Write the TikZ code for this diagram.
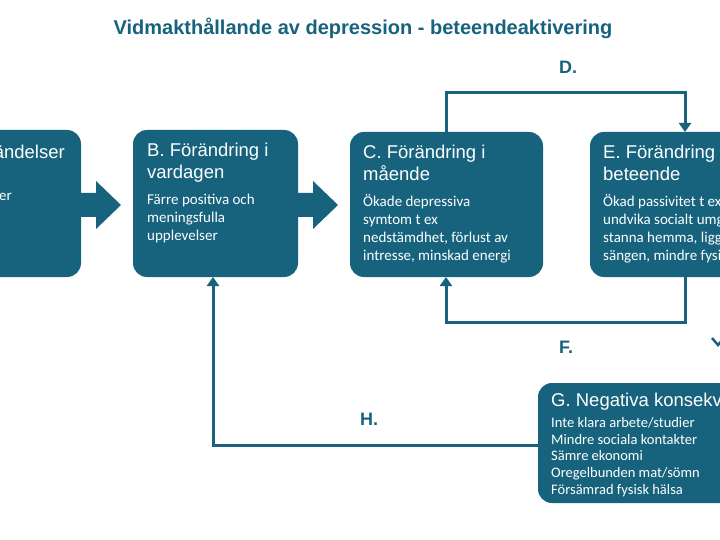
\documentclass[tikz,border=0pt]{standalone}
\usepackage{fontspec}
\setmainfont{Liberation Sans}
\newfontfamily\bodyf{Carlito}
\usetikzlibrary{arrows.meta}
\definecolor{teal}{HTML}{17637D}
\tikzset{
 box/.style={fill=teal,rounded corners=14pt},
 head/.style={anchor=north west,text=white,font=\fontsize{18.5}{22}\selectfont,align=left,inner sep=0pt},
 body/.style={anchor=north west,text=white,font=\bodyf\fontsize{15}{18}\selectfont,align=left,inner sep=0pt},
 conn/.style={draw=teal,line width=3pt,-{Triangle[length=9pt,width=12pt]}},
 lab/.style={text=teal,font=\bfseries\fontsize{18}{20}\selectfont},
 blk/.style={fill=teal}
}
\begin{document}
\begin{tikzpicture}[x=1pt,y=-1pt]
\useasboundingbox (0,0) rectangle (720,540);
\clip (0,0) rectangle (720,540);
\fill[white] (0,0) rectangle (720,540);
\node[text=teal,font=\bfseries\fontsize{20}{22}\selectfont] (title) at (363,28) {Vidmakthållande av depression - beteendeaktivering};
% boxes
\fill[box] (-100,130) rectangle (81,277);
\fill[box] (133,130) rectangle (298,277);
\coordinate (Bb) at (213,277);
\fill[box] (350,132) rectangle (543,277);
\fill[box] (590,132) rectangle (800,277);
\fill[box] (538,383) rectangle (800,503);
% texts
\node[head,anchor=north east] (ta) at (65,145) {händelser};
\node[body,anchor=north east] (tab) at (12,193) {er};
\node[head] (tb) at (147,143) {B. Förändring i\\vardagen};
\node[body] (tbb) at (147,194) {Färre positiva och\\meningsfulla\\upplevelser};
\node[head] (tc) at (363,145) {C. Förändring i\\mående};
\node[body] (tcb) at (363,194) {Ökade depressiva\\symtom t ex\\nedstämdhet, förlust av\\intresse, minskad energi};
\node[head] (te) at (603,145) {E. Förändring i\\beteende};
\node[body] (teb) at (603,194) {Ökad passivitet t ex\\undvika socialt umgänge,\\stanna hemma, ligga i\\sängen, mindre fysisk aktivitet};
\node[head] (tg) at (551,393) {G. Negativa konsekvenser};
\node[body,font=\bodyf\fontsize{14.5}{16.8}\selectfont] (tgb) at (551,417) {Inte klara arbete/studier\\Mindre sociala kontakter\\Sämre ekonomi\\Oregelbunden mat/sömn\\Försämrad fysisk hälsa};
% block arrows
\fill[blk] (80,193) -- (96,193) -- (96,181) -- (121,205) -- (96,229) -- (96,217) -- (80,217) -- cycle;
\fill[blk] (297,193) -- (313,193) -- (313,181) -- (338,205) -- (313,229) -- (313,217) -- (297,217) -- cycle;
% loops
\coordinate (cT) at (446,132);
\coordinate (eT) at (685,132);
\coordinate (cB) at (446,277);
\coordinate (eB) at (685,277);
\coordinate (gL) at (538,445);
\draw[conn] (cT) -- (446,93) -- (685,93) -- (eT);
\draw[conn] (eB) -- (685,322) -- (446,322) -- (cB);
\draw[conn] (gL) -- (213,445) -- (Bb);
\draw[draw=teal,line width=2.5pt] (712,338) -- (718,345) -- (724,338);
\node[lab] (D) at (568,67) {D.};
\node[lab] (F) at (566,347) {F.};
\node[lab] (H) at (369,419) {H.};
\end{tikzpicture}
\end{document}
